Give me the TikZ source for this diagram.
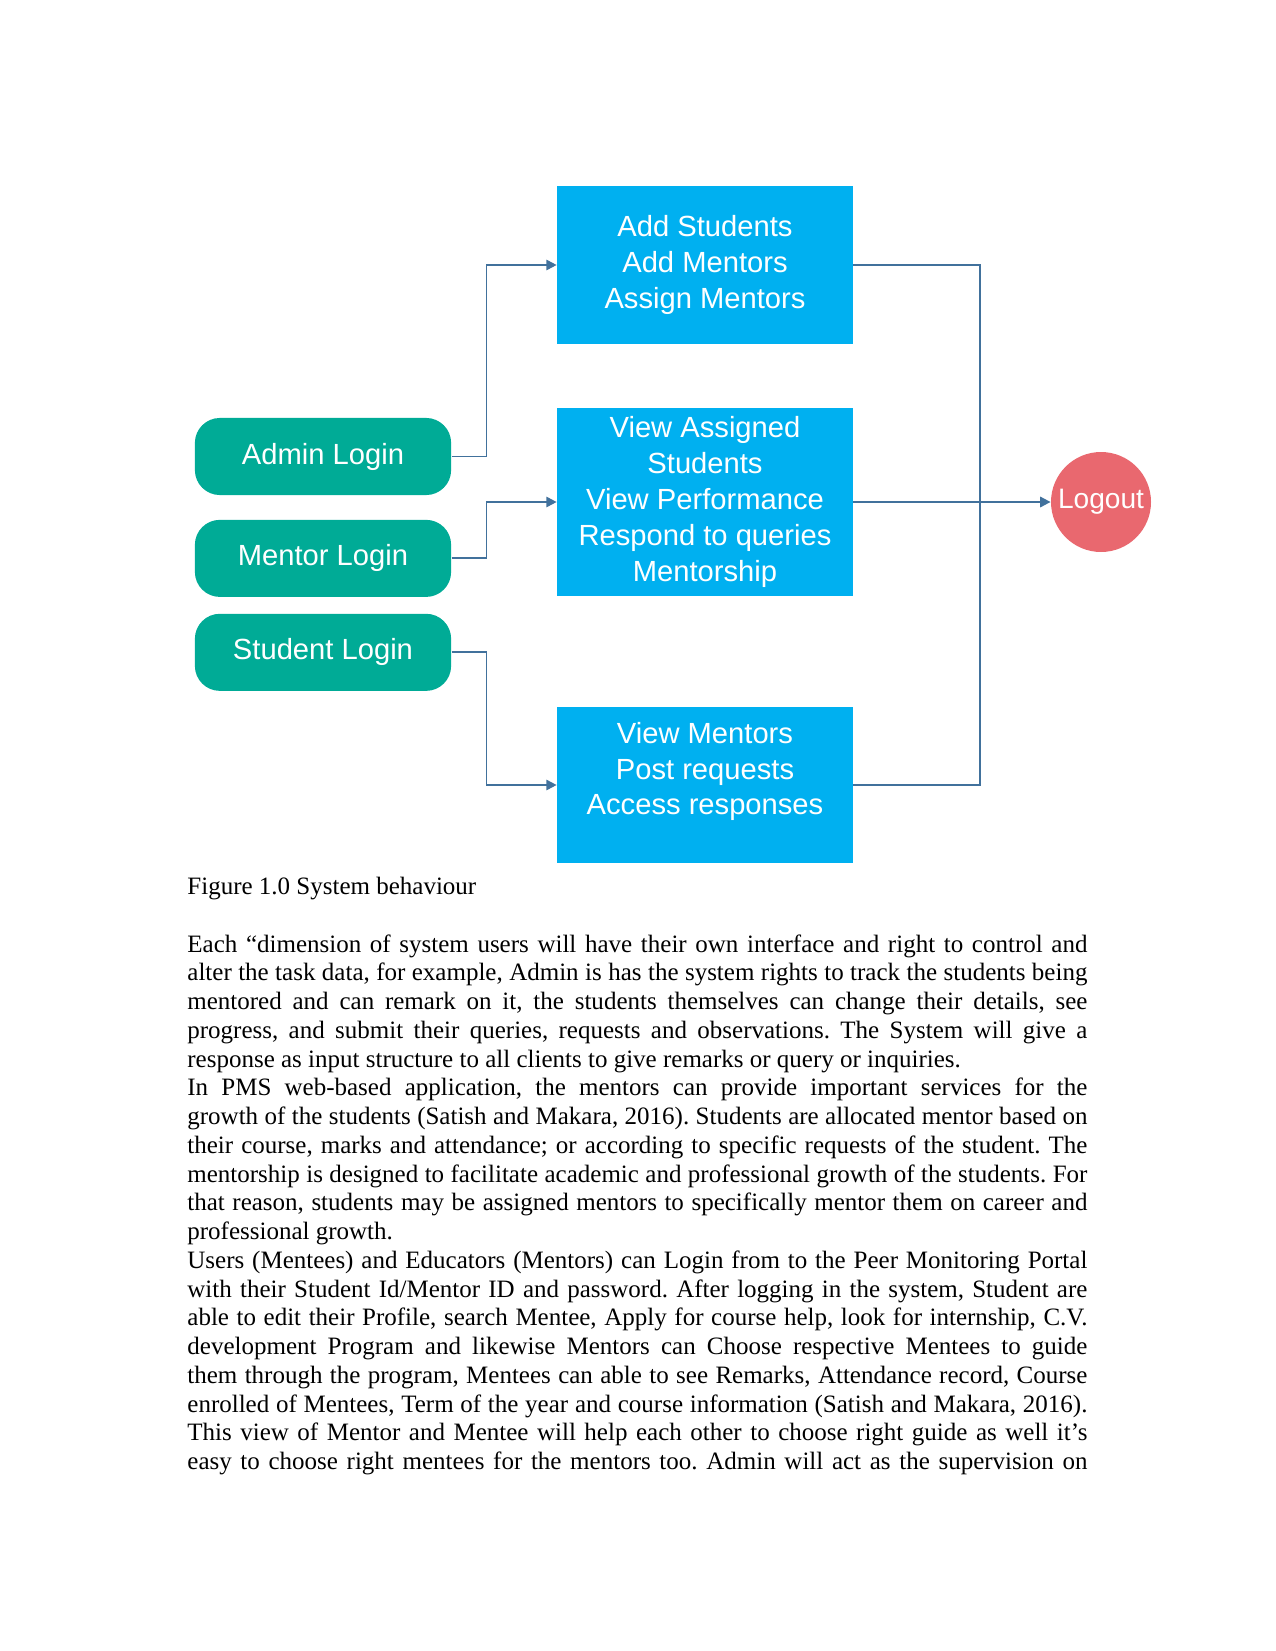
\documentclass[tikz,border=0pt]{standalone}
\usepackage{fontspec}
\setmainfont{Liberation Serif}
\newfontfamily\diafont{Liberation Sans}
\usepackage{xcolor}
\usetikzlibrary{arrows.meta,positioning}
\definecolor{taskblue}{HTML}{00B0F0}
\definecolor{logingreen}{HTML}{00AB96}
\definecolor{logoutred}{HTML}{E9686F}
\definecolor{linkblue}{HTML}{41719C}

\begin{document}
\begin{tikzpicture}[
  x=0.48pt, y=-0.48pt,
  task/.style={fill=taskblue, minimum width=142pt, inner sep=0pt,
               text=white, font=\diafont\fontsize{14}{17.2}\selectfont, align=center},
  tasktext/.style={text=white, inner sep=0pt,
               font=\diafont\fontsize{14}{17.2}\selectfont, align=center},
  login/.style={fill=logingreen, rounded corners=12pt, minimum width=123pt,
                minimum height=37pt, inner sep=0pt, text=white,
                font=\diafont\fontsize{14}{16.5}\selectfont},
  endnode/.style={circle, fill=logoutred, minimum size=48pt, inner sep=0pt,
                  text=white, font=\diafont\fontsize{13.5}{15}\selectfont},
  link/.style={draw=linkblue, line width=0.9pt},
  arr/.style={link, -{Triangle[length=5pt, width=5pt]}},
  body/.style={anchor=base west, inner sep=0pt,
               font=\fontsize{12}{13.8}\selectfont\frenchspacing},
]
\useasboundingbox (0,0) rectangle (1275,1651);

\node[login] (admin) at (323,456.5) {Admin Login};
\node[login, below=11.5pt of admin] (mentor) {Mentor Login};
\node[login, below=7.7pt of mentor] (student) {Student Login};

\node[task, minimum height=75.8pt] (box1) at (705,265)
  {Add Students\\Add Mentors\\Assign Mentors};
\node[task, minimum height=90.2pt] (box2) at (705,502)
  {View Assigned\\Students\\View Performance\\Respond to queries\\Mentorship};
\node[task, minimum height=74.9pt] (box3) at (705,785) {};
\node[tasktext] (box3txt) at ([yshift=6.5pt]box3.center)
  {View Mentors\\Post requests\\Access responses};

\node[endnode] (logout) at (1101,502) {\raisebox{-2.5pt}{Logout}};

\draw[arr] (admin.east) -- ++(35,0) |- (box1.west);
\draw[arr] (mentor.east) -- ++(35,0) |- (box2.west);
\draw[arr] (student.east) -- ++(35,0) |- (box3.west);
\draw[link] (box1.east) -- ++(127,0) |- (box3.east);
\draw[arr] (box2.east) -- (logout);

\node[body] (caption) at (187,894) {Figure 1.0 System behaviour};

\node[body] (text) at (187,952) {\parbox[t]{432pt}{\parindent=0pt\parskip=0pt
Each “dimension of system users will have their own interface and right to control and\linebreak
alter the task data, for example, Admin is has the system rights to track the students being\linebreak
mentored and can remark on it, the students themselves can change their details, see\linebreak
progress, and submit their queries, requests and observations. The System will give a\linebreak
response as input structure to all clients to give remarks or query or inquiries.\par
In PMS web-based application, the mentors can provide important services for the\linebreak
growth of the students (Satish and Makara, 2016). Students are allocated mentor based on\linebreak
their course, marks and attendance; or according to specific requests of the student. The\linebreak
mentorship is designed to facilitate academic and professional growth of the students. For\linebreak
that reason, students may be assigned mentors to specifically mentor them on career and\linebreak
professional growth.\par
{\parfillskip=0pt
Users (Mentees) and Educators (Mentors) can Login from to the Peer Monitoring Portal\linebreak
with their Student Id/Mentor ID and password. After logging in the system, Student are\linebreak
able to edit their Profile, search Mentee, Apply for course help, look for internship, C.V.\linebreak
development Program and likewise Mentors can Choose respective Mentees to guide\linebreak
them through the program, Mentees can able to see Remarks, Attendance record, Course\linebreak
enrolled of Mentees, Term of the year and course information (Satish and Makara, 2016).\linebreak
This view of Mentor and Mentee will help each other to choose right guide as well it’s\linebreak
easy to choose right mentees for the mentors too. Admin will act as the supervision on\par}}};
\end{tikzpicture}
\end{document}
